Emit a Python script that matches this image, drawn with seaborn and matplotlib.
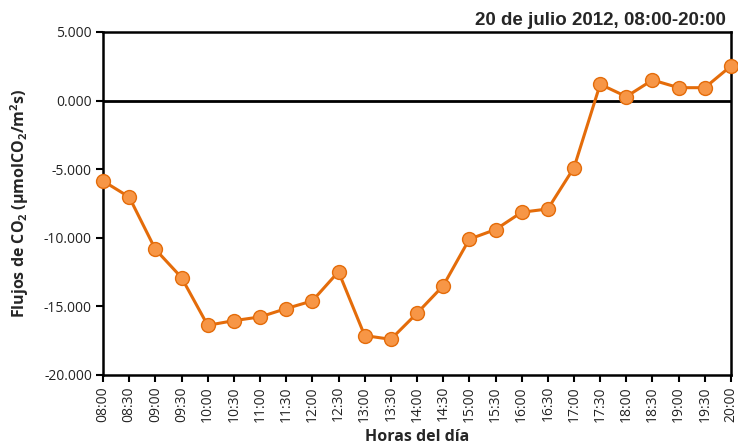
import numpy as np
import pandas as pd
import matplotlib
matplotlib.use("Agg")
import matplotlib.pyplot as plt
import seaborn as sns

# datos
horas = ["08:00", "08:30", "09:00", "09:30", "10:00", "10:30", "11:00", "11:30",
         "12:00", "12:30", "13:00", "13:30", "14:00", "14:30", "15:00", "15:30",
         "16:00", "16:30", "17:00", "17:30", "18:00", "18:30", "19:00", "19:30", "20:00"]
flujos = [-5.86, -7.03, -10.84, -12.9, -16.38, -16.04, -15.77, -15.16,
          -14.6, -12.47, -17.13, -17.4, -15.5, -13.5, -10.1, -9.4,
          -8.14, -7.9, -4.89, 1.19, 0.29, 1.5, 0.94, 0.94, 2.52]
y_ticks = [5, 0, -5, -10, -15, -20]

sns.set_theme(style="white")
plt.rcParams["font.family"] = ["Open Sans", "DejaVu Sans"]
plt.rcParams["mathtext.fontset"] = "custom"
plt.rcParams["mathtext.rm"] = "Open Sans"
plt.rcParams["mathtext.bf"] = "Open Sans:bold"

df = pd.DataFrame({"pos": np.arange(len(horas)), "flujo": flujos})

fig = plt.figure(figsize=(7.38, 4.48), dpi=100)
ax = fig.add_axes([0.1396, 0.163, 0.8509, 0.7656])

ax.axhline(0, color="black", lw=2, zorder=1)
sns.lineplot(data=df, x="pos", y="flujo", ax=ax, color="#E46C0A", lw=2.2,
             marker="o", markersize=10, markerfacecolor="#F79646",
             markeredgecolor="#E46C0A", markeredgewidth=1, zorder=3, clip_on=False)

ax.set_xlim(0, len(horas) - 1)
ax.set_ylim(-20, 5)
ax.set_xticks(df["pos"])
ax.set_xticklabels(horas, rotation=90, fontsize=10, color="#222222")
ax.set_yticks(y_ticks)
ax.set_yticklabels([f"{v:.3f}" for v in y_ticks], fontsize=10, color="#222222")
ax.tick_params(axis="both", direction="out", length=5, width=1.5, color="black",
               bottom=True, left=True, pad=3)

for s in ax.spines.values():
    s.set_color("black")
    s.set_linewidth(1.8)

ax.set_xlabel("Horas del día", fontsize=11.5, fontweight="bold", labelpad=5)
ax.set_ylabel(r"Flujos de CO$_\mathbf{2}$ (µmolCO$_\mathbf{2}$/m$^\mathbf{2}$s)",
              fontsize=11.5, fontweight="bold", labelpad=9)

fig.text(0.983, 0.955, "20 de julio 2012, 08:00-20:00", ha="right", va="center",
         fontsize=13.5, fontweight="bold", family="Liberation Sans")

fig.savefig("out.png", dpi=100)
